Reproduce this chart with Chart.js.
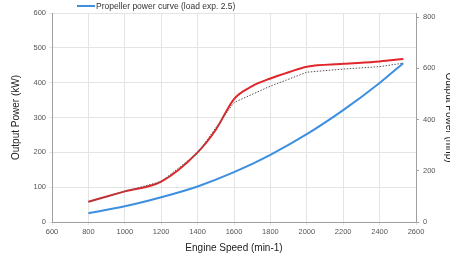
<!DOCTYPE html>
<html>
<head>
<meta charset="utf-8">
<script src="https://cdn.jsdelivr.net/npm/chart.js@4.4.0/dist/chart.umd.min.js"></script>
<style>
  html, body { margin: 0; padding: 0; background: #fff; overflow: hidden; }
  #wrap { position: relative; width: 455px; height: 260px; }
  #legend {
    position: absolute; left: 77px; top: 0px; height: 11px;
    font: 8.5px "Liberation Sans", Arial, sans-serif; color: #333;
    display: flex; align-items: center; white-space: nowrap;
  }
  #legend .swatch { width: 18px; height: 2px; background: #3d8fe0; margin-right: 1px; }
</style>
</head>
<body>
<div id="wrap">
  <canvas id="c"></canvas>
  <div id="legend"><span class="swatch"></span><span>Propeller power curve (load exp. 2.5)</span></div>
</div>
<script>
// engine speed (min-1) vs output power (kW)
const ratedRpm = [800, 1000, 1200, 1400, 1500, 1600, 1700, 1800, 1900, 2000, 2200, 2400, 2530];
const ratedKw  = [58, 88, 116, 200, 265, 353, 390, 412, 430, 446, 454, 461, 468];

const contRpm = [800, 1000, 1200, 1400, 1600, 1800, 2000, 2200, 2400, 2530];
const contKw  = [58, 88, 116, 198, 343, 390, 430, 439, 446, 456];

const propRpm = [800, 1000, 1200, 1400, 1600, 1800, 2000, 2200, 2400, 2530];
const propKw  = [25, 45, 71, 102, 143, 193, 252, 321, 399, 456];

const xTicks = [600, 800, 1000, 1200, 1400, 1600, 1800, 2000, 2200, 2400, 2600];
const mhpTicks = [0, 200, 400, 600, 800];
const KW_TO_MHP = 1.3596;

const pts = (xs, ys) => xs.map((x, i) => ({ x, y: ys[i] }));

const tickFont = { family: '"Liberation Sans", Arial, sans-serif', size: 7.5 };
const titleFont = { family: '"Liberation Sans", Arial, sans-serif', size: 10 };
const GRID = "#e4e4e4";
const AXIS = "#a0a0a0";
const plain = (v) => String(v);

new Chart(document.getElementById("c"), {
  type: "line",
  data: {
    datasets: [
      {
        label: "Continuous",
        data: pts(contRpm, contKw),
        borderColor: "#555",
        borderWidth: 1,
        borderDash: [1.5, 1.5],
        tension: 0,
        pointRadius: 0,
        order: 0,
      },
      {
        label: "Rated power",
        data: pts(ratedRpm, ratedKw),
        borderColor: "#e0262a",
        borderWidth: 2,
        cubicInterpolationMode: "monotone",
        pointRadius: 0,
        order: 1,
      },
      {
        label: "Propeller power curve (load exp. 2.5)",
        data: pts(propRpm, propKw),
        borderColor: "#3d8fe0",
        borderWidth: 2,
        cubicInterpolationMode: "monotone",
        pointRadius: 0,
        order: 2,
      },
    ],
  },
  options: {
    responsive: true,
    maintainAspectRatio: false,
    animation: false,
    devicePixelRatio: 1,
    layout: { padding: { top: 13, left: 6, right: 0, bottom: 6 } },
    plugins: { legend: { display: false }, tooltip: { enabled: false } },
    scales: {
      x: {
        type: "linear",
        min: 600,
        max: 2600,
        afterBuildTicks: (s) => { s.ticks = xTicks.map((v) => ({ value: v })); },
        ticks: { font: tickFont, color: "#555", padding: 2, maxRotation: 0, callback: plain },
        grid: { color: GRID, tickLength: 3 },
        border: { color: AXIS },
        title: { display: true, text: "Engine Speed (min-1)", font: titleFont, color: "#222", padding: { top: 4, bottom: 0 } },
        afterFit: (s) => { s.height = 32; },
      },
      y: {
        position: "left",
        min: 0,
        max: 600,
        ticks: { stepSize: 100, font: tickFont, color: "#555", padding: 3, callback: plain },
        grid: { color: GRID, tickLength: 3 },
        border: { color: AXIS },
        title: { display: true, text: "Output Power (kW)", font: titleFont, color: "#222", padding: { top: 4, bottom: 0 } },
        afterFit: (s) => { s.width = 46; },
      },
      y2: {
        position: "right",
        min: 0,
        max: 600 * KW_TO_MHP,
        afterBuildTicks: (s) => { s.ticks = mhpTicks.map((v) => ({ value: v })); },
        ticks: { font: tickFont, color: "#555", padding: 4, callback: plain },
        grid: { drawOnChartArea: false, color: AXIS, tickLength: 3 },
        border: { color: AXIS },
        title: { display: true, text: "Output Power (mhp)", font: titleFont, color: "#222", padding: { top: 0, bottom: 0 } },
        afterFit: (s) => { s.width = 39; },
      },
    },
  },
});
</script>
</body>
</html>
